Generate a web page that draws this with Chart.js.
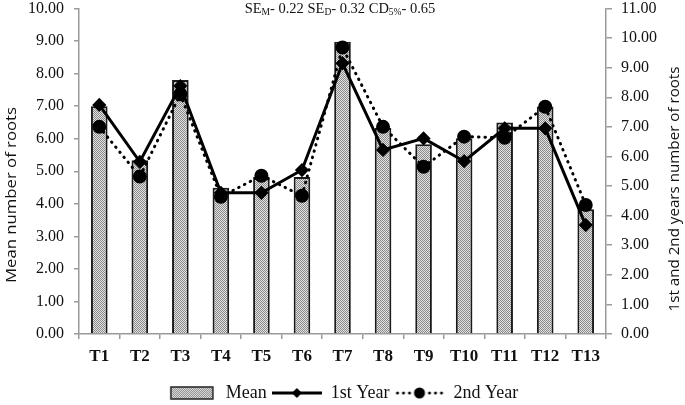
<!DOCTYPE html>
<html>
<head>
<meta charset="utf-8">
<script src="https://cdn.jsdelivr.net/npm/chart.js@4"></script>
<style>
  html, body { margin: 0; padding: 0; background: #fff; }
  #wrap { width: 685px; height: 405px; }
</style>
</head>
<body>
<div id="wrap"><canvas id="roots" width="685" height="405"></canvas></div>
<script>
// data
const treatments = ['T1', 'T2', 'T3', 'T4', 'T5', 'T6', 'T7', 'T8', 'T9', 'T10', 'T11', 'T12', 'T13'];
const meanRoots = [7.00, 5.34, 7.80, 4.49, 4.83, 4.82, 8.98, 6.33, 5.83, 6.01, 6.50, 6.99, 3.83];
const year1Roots = [7.74, 5.82, 8.38, 4.77, 4.77, 5.54, 9.15, 6.22, 6.61, 5.84, 6.95, 6.95, 3.68];
const year2Roots = [7.00, 5.32, 8.10, 4.64, 5.35, 4.67, 9.68, 7.00, 5.65, 6.67, 6.63, 7.68, 4.36];
const leftTicks = [0, 1, 2, 3, 4, 5, 6, 7, 8, 9, 10];
const rightTicks = [0, 1, 2, 3, 4, 5, 6, 7, 8, 9, 10, 11];

const serif = '"Liberation Serif", "Times New Roman", serif';
const sans = '"Open Sans", "Liberation Sans", sans-serif';

// stippled fill for the bars
function makePattern() {
    const c = document.createElement('canvas');
    c.width = 2; c.height = 2;
    const g = c.getContext('2d');
    g.fillStyle = '#e2e2e2';
    g.fillRect(0, 0, 2, 2);
    g.fillStyle = '#8a8a8a';
    g.fillRect(0, 0, 1, 1);
    g.fillRect(1, 1, 1, 1);
    return g.createPattern(c, 'repeat');
}
const barFill = makePattern();

// legend icons
function legendIcon(kind) {
    const c = document.createElement('canvas');
    c.width = 50; c.height = 14;
    const g = c.getContext('2d');
    if (kind === 'bar') {
        g.fillStyle = barFill;
        g.fillRect(4, 1, 42, 12);
        g.strokeStyle = '#222';
        g.lineWidth = 1.5;
        g.strokeRect(4, 1, 42, 12);
    } else if (kind === 'solid') {
        g.strokeStyle = '#000';
        g.lineWidth = 3;
        g.beginPath(); g.moveTo(0, 7); g.lineTo(50, 7); g.stroke();
        g.fillStyle = '#000';
        g.beginPath(); g.moveTo(25, 2); g.lineTo(30, 7); g.lineTo(25, 12); g.lineTo(20, 7); g.closePath(); g.fill();
    } else {
        g.fillStyle = '#000';
        [3, 9, 15, 35, 41, 47].forEach(x => { g.beginPath(); g.arc(x, 7, 1.5, 0, Math.PI * 2); g.fill(); });
        g.beginPath(); g.arc(25, 7, 5.5, 0, Math.PI * 2); g.fill();
    }
    return c;
}

// title with subscripts + the two rotated axis titles
const extraText = {
    id: 'extraText',
    afterDraw(chart) {
        const ctx = chart.ctx;
        ctx.save();
        ctx.fillStyle = '#111';
        ctx.textBaseline = 'middle';
        const parts = [
            ['SE', false], ['M', true], ['- 0.22 SE', false], ['D', true],
            ['- 0.32 CD', false], ['5%', true], ['- 0.65', false]
        ];
        const big = '14.5px ' + serif, small = '9.5px ' + serif;
        let total = 0;
        parts.forEach(p => { ctx.font = p[1] ? small : big; total += ctx.measureText(p[0]).width; });
        let x = 340 - total / 2;
        ctx.textAlign = 'left';
        parts.forEach(p => {
            ctx.font = p[1] ? small : big;
            ctx.fillText(p[0], x, p[1] ? 12 : 9);
            x += ctx.measureText(p[0]).width;
        });

        ctx.font = '14px ' + sans;
        ctx.textAlign = 'center';
        drawRotated(ctx, 'Mean number of roots', 12, 195, 176);
        drawRotated(ctx, '1st and 2nd years number of roots', 675, 189, 245);
        ctx.restore();
    }
};

function drawRotated(ctx, text, x, y, len) {
    const w = ctx.measureText(text).width;
    ctx.save();
    ctx.translate(x, y);
    ctx.rotate(-Math.PI / 2);
    ctx.scale(len / w, 1);
    ctx.fillText(text, 0, 0);
    ctx.restore();
}

// fixed y axis box so the plot sits where it does in the figure
function fitY(s) {
    s.width = 79;
    s.paddingTop = 7;
    s.paddingBottom = 0;
}

const axisGray = '#9a9a9a';

const chart = new Chart(document.getElementById('roots'), {
    data: {
        labels: treatments,
        datasets: [
            {
                type: 'line', label: '1st Year', data: year1Roots, yAxisID: 'y2', order: 1,
                borderColor: '#000', borderWidth: 3, backgroundColor: '#000',
                pointStyle: 'rectRot', pointRadius: 5, pointHoverRadius: 5
            },
            {
                type: 'line', label: '2nd Year', data: year2Roots, yAxisID: 'y2', order: 2,
                borderColor: '#000', borderWidth: 3, borderDash: [0.5, 6], borderCapStyle: 'round',
                backgroundColor: '#000', pointStyle: 'circle', pointRadius: 5.5, pointHoverRadius: 5.5
            },
            {
                type: 'bar', label: 'Mean', data: meanRoots, yAxisID: 'y', order: 3,
                backgroundColor: barFill, borderColor: '#1a1a1a', borderWidth: 2,
                barPercentage: 0.41, categoryPercentage: 1
            }
        ]
    },
    options: {
        responsive: false,
        animation: false,
        layout: { padding: { top: 0, left: 0, right: 0, bottom: -7 } },
        scales: {
            x: {
                offset: true,
                border: { color: axisGray, width: 1.5 },
                grid: { display: true, drawOnChartArea: false, color: axisGray, tickLength: 5, lineWidth: 1.5 },
                ticks: { color: '#111', font: { family: serif, size: 17, weight: 'bold' }, padding: 7 },
                afterFit: s => { s.height = 45; }
            },
            y: {
                position: 'left', min: 0, max: 10,
                afterBuildTicks: s => { s.ticks = leftTicks.map(v => ({ value: v })); },
                border: { color: axisGray, width: 1.5 },
                grid: { display: true, drawOnChartArea: false, color: axisGray, tickLength: 5, lineWidth: 1.5 },
                ticks: { color: '#111', font: { family: serif, size: 16 }, padding: 10, callback: v => v.toFixed(2) },
                afterFit: fitY
            },
            y2: {
                position: 'right', min: 0, max: 11,
                afterBuildTicks: s => { s.ticks = rightTicks.map(v => ({ value: v })); },
                border: { color: axisGray, width: 1.5 },
                grid: { display: true, drawOnChartArea: false, color: axisGray, tickLength: 6, lineWidth: 1.5 },
                ticks: { color: '#111', font: { family: serif, size: 16 }, padding: 9, callback: v => v.toFixed(2) },
                afterFit: fitY
            }
        },
        plugins: {
            tooltip: { enabled: false },
            legend: {
                position: 'bottom',
                labels: {
                    usePointStyle: true,
                    pointStyleWidth: 50,
                    color: '#111',
                    font: { family: serif, size: 18, lineHeight: 1 },
                    padding: 5,
                    generateLabels: () => [
                        { text: 'Mean', pointStyle: legendIcon('bar'), datasetIndex: 2, hidden: false, fontColor: '#111' },
                        { text: '1st Year', pointStyle: legendIcon('solid'), datasetIndex: 0, hidden: false, fontColor: '#111' },
                        { text: '2nd Year', pointStyle: legendIcon('dots'), datasetIndex: 1, hidden: false, fontColor: '#111' }
                    ]
                }
            }
        }
    },
    plugins: [extraText]
});
</script>
</body>
</html>
